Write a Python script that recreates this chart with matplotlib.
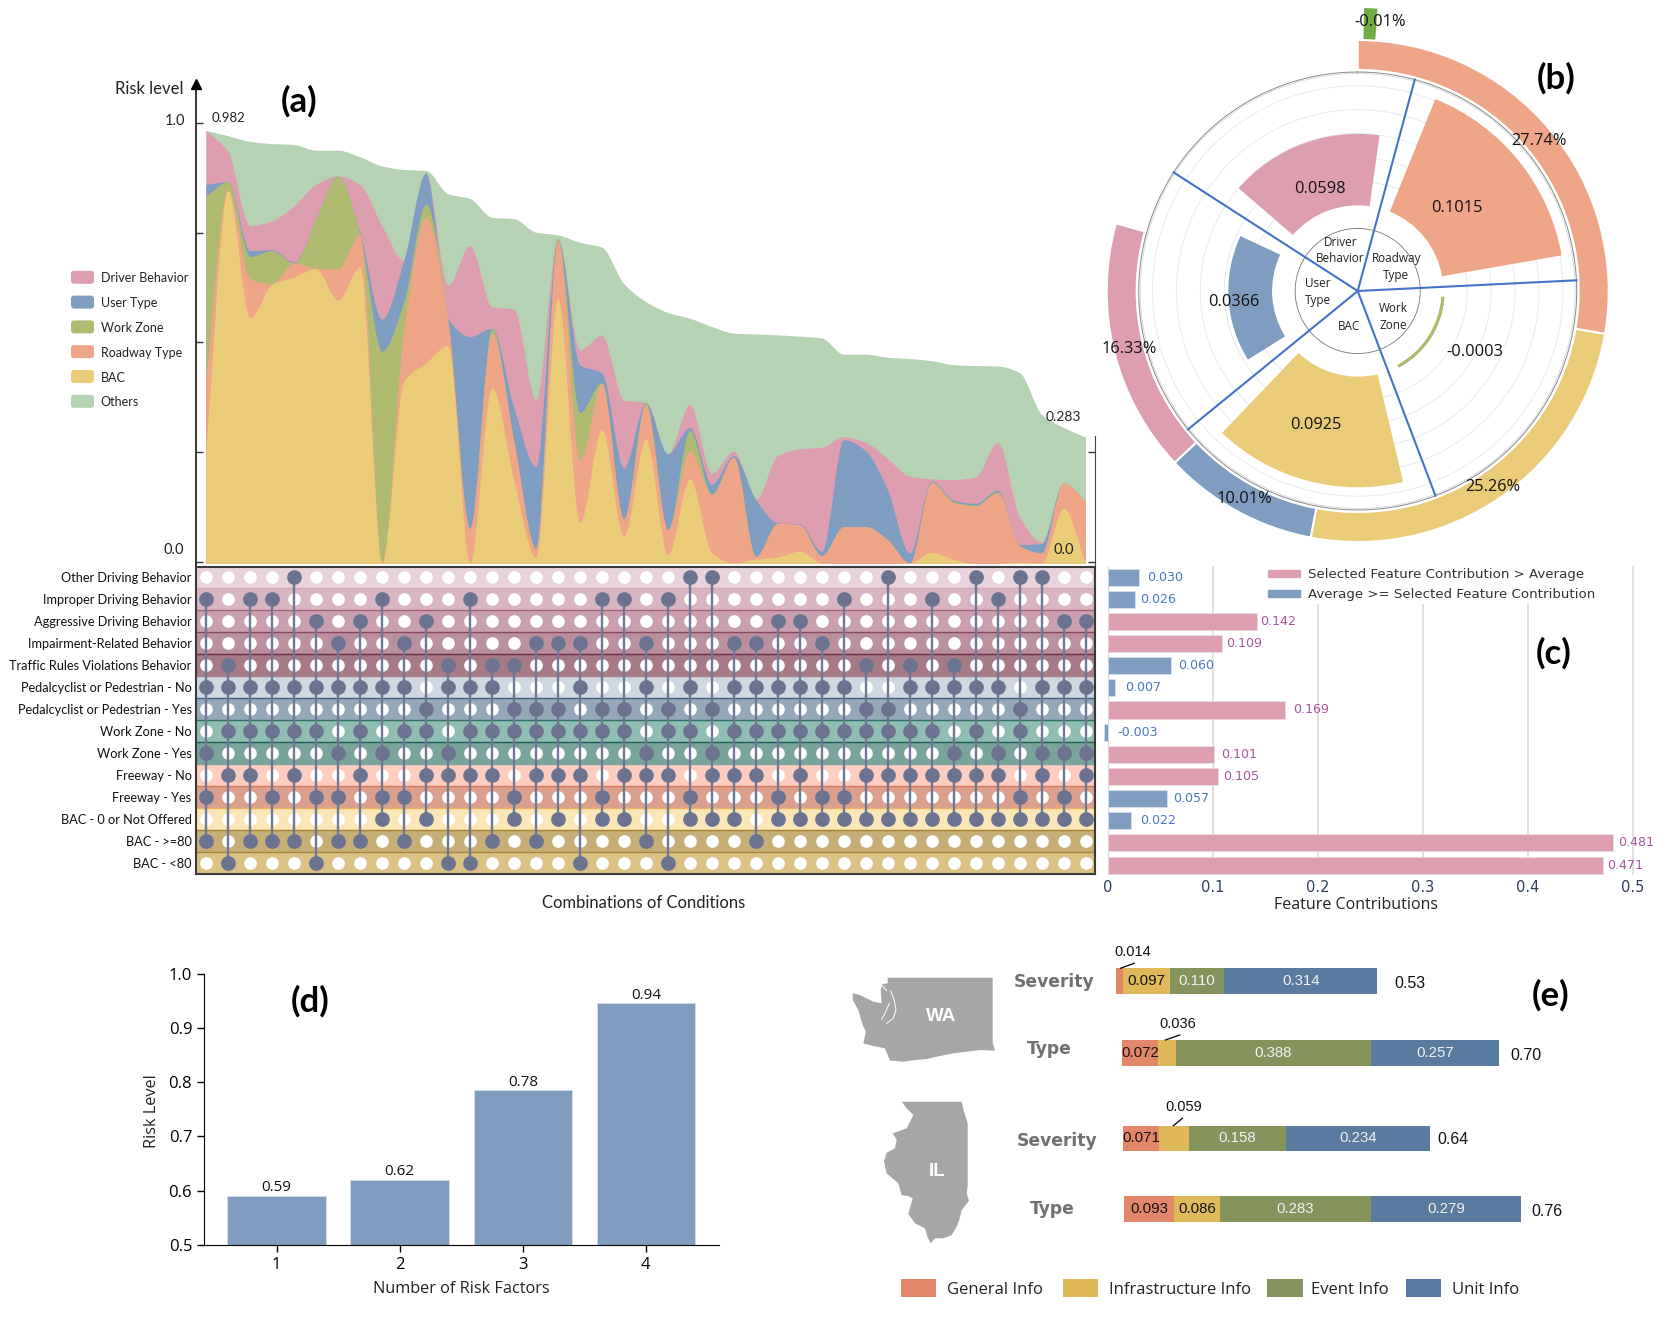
import numpy as np
import matplotlib
matplotlib.use("Agg")
import matplotlib.pyplot as plt
from matplotlib.patches import PathPatch, Polygon, Rectangle, FancyBboxPatch, Patch
from matplotlib.path import Path

W, H = 1661, 1334

plt.rcParams["font.family"] = ["Lato", "DejaVu Sans"]

# (a) stacked risk level, cumulative top of each layer per combination
others_top = [.982, .970, .957, .952, .950, .937, .937, .922, .901, .893, .891, .838, .827, .784, .781, .750, .744, .727, .716, .633, .592,
              .567, .554, .535, .520, .518, .516, .513, .509, .472, .472, .465, .462, .457, .448, .446, .445, .430, .335, .305, .283]
driver_top = [.982, .934, .765, .776, .810, .859, .878, .859, .765, .686, .885, .629, .720, .580, .575, .369, .735, .482, .515, .367, .362,
              .245, .358, .201, .251, .141, .241, .256, .260, .284, .271, .234, .194, .188, .186, .192, .271, .102, .044, .179, .136]
user_top = [.859, .865, .708, .710, .682, .780, .878, .750, .552, .686, .885, .554, .512, .531, .350, .216, .735, .448, .430, .213, .362,
            .245, .305, .176, .241, .141, .088, .085, .023, .277, .252, .162, .019, .183, .139, .132, .162, .038, .040, .179, .136]
work_top = [.833, .865, .695, .708, .680, .780, .878, .746, .479, .592, .814, .550, .075, .531, .275, .030, .735, .339, .407, .098, .362,
            .072, .298, .154, .237, .011, .087, .083, .013, .079, .079, .049, -.004, .181, .136, .128, .158, .035, .019, .179, .136]
road_top = [.422, .848, .644, .633, .680, .668, .667, .745, .000, .531, .784, .550, .075, .520, .275, .030, .731, .230, .405, .096, .358,
            .072, .252, .152, .237, .011, .087, .083, .013, .079, .079, .049, -.004, .179, .134, .126, .156, .035, .019, .179, .136]
bac_top = [.260, .844, .554, .631, .648, .667, .595, .671, -.004, .411, .452, .492, -.004, .396, .185, .008, .601, .088, .301, .057, .279,
           .015, .188, .019, -.004, .005, .010, .023, -.004, -.005, -.005, -.005, -.004, .020, .004, -.005, -.005, -.002, -.004, .121, -.005]
layer_names = ["Driver Behavior", "User Type", "Work Zone", "Roadway Type", "BAC", "Others"]
layer_colors = ["#dd9fb0", "#7f9dc0", "#b0bb72", "#eea588", "#eacb78", "#b5d2b2"]

# (a) condition matrix, columns that are set on each row
condition_labels = ["Other Driving Behavior", "Improper Driving Behavior", "Aggressive Driving Behavior",
                    "Impairment-Related Behavior", "Traffic Rules Violations Behavior",
                    "Pedalcyclist or Pedestrian - No", "Pedalcyclist or Pedestrian - Yes",
                    "Work Zone - No", "Work Zone - Yes", "Freeway - No", "Freeway - Yes",
                    "BAC - 0 or Not Offered", "BAC - >=80", "BAC - <80"]
other_driving = [4, 22, 23, 31, 35, 37, 38]
improper = [0, 2, 3, 8, 12, 18, 19, 21, 29, 33, 36]
aggressive = [5, 7, 10, 26, 27, 39, 40]
impairment = [6, 9, 15, 16, 17, 20, 24, 25, 28]
traffic_rules = [1, 11, 13, 14, 30, 32, 34]
ped_no = [0, 1, 2, 3, 4, 5, 6, 7, 8, 9, 11, 12, 13, 17, 20, 22, 24, 25, 26, 27, 28, 29, 32, 33, 34, 35, 36, 38, 39, 40]
ped_yes = [10, 14, 15, 16, 18, 19, 21, 23, 30, 31, 37]
wz_no = [1, 2, 3, 4, 5, 7, 9, 10, 12, 13, 14, 15, 16, 17, 18, 19, 21, 22, 24, 25, 26, 27, 28, 29, 30, 31, 32, 33, 35, 37]
wz_yes = [0, 6, 8, 11, 20, 23, 34, 36, 38, 39, 40]
fwy_no = [1, 2, 4, 7, 10, 11, 12, 13, 15, 16, 17, 19, 20, 21, 23, 24, 25, 27, 30, 31, 32, 33, 34, 35, 36, 38, 40]
fwy_yes = [0, 3, 5, 6, 8, 9, 14, 18, 22, 26, 28, 29, 37, 39]
bac_zero = [8, 10, 14, 16, 18, 19, 22, 23, 24, 26, 27, 28, 29, 30, 31, 32, 33, 34, 35, 36, 37, 38, 39, 40]
bac_high = [0, 2, 3, 4, 6, 7, 9, 13, 15, 20, 25]
bac_low = [1, 5, 11, 12, 17, 21]
matrix_rows = [other_driving, improper, aggressive, impairment, traffic_rules, ped_no, ped_yes,
               wz_no, wz_yes, fwy_no, fwy_yes, bac_zero, bac_high, bac_low]
band_colors = ["#e8d3dc", "#d9b4c2", "#caa0b1", "#ba909f", "#a67a87", "#cfd8e1", "#95a8ba",
               "#8fbdb1", "#78a49c", "#fecdc0", "#dba08d", "#fae6b7", "#c6ae76", "#dcc185"]
band_lines = ["#d9a7b9", "#a5607a", "#8b4560", "#6b2c46", "#a67a87", "#3f5f7e", "#2d6e66",
              "#1e5c55", "#78a49c", "#d4785a", "#eeb05e", "#a8832e", "#a8853a", "#dcc185"]

# (b) radial contributions
sector_names = ["Roadway", "Work", "BAC", "User", "Driver"]
sector_values = [0.1015, -0.0003, 0.0925, 0.0366, 0.0598]
sector_from = [22.0, 94.7, 166.6, 238.0, 310.8]
sector_to = [80.1, 151.0, 223.7, 295.1, 368.0]
sector_colors = ["#eea588", "#b0bb72", "#eacb78", "#7f9dc0", "#dd9fb0"]
divider_angles = [15.1, 87.2, 159.2, 230.8, 302.8]
ring_pct = [27.74, 25.26, 10.01, 16.33]
ring_colors = ["#eea588", "#eacb78", "#7f9dc0", "#dd9fb0"]

# (c) feature contributions
contrib = [0.030, 0.026, 0.142, 0.109, 0.060, 0.007, 0.169, -0.003, 0.101, 0.105, 0.057, 0.022, 0.481, 0.471]
contrib_pad = [.008, .005, .003, .004, .007, .010, .0076, .0127, .007, .005, .0055, .009, .005, .004]
above_avg = [False, False, True, True, False, False, True, False, True, True, False, False, True, True]

# (d) risk by number of factors
n_factors = [1, 2, 3, 4]
risk_level = [0.59, 0.62, 0.785, 0.946]
risk_labels = ["0.59", "0.62", "0.78", "0.94"]

# (e) state models
info_names = ["General Info", "Infrastructure Info", "Event Info", "Unit Info"]
info_colors = ["#e2876a", "#dfb95a", "#85935d", "#5a7ba0"]
wa_severity = [0.014, 0.097, 0.110, 0.314]
wa_type = [0.072, 0.036, 0.388, 0.257]
il_severity = [0.071, 0.059, 0.158, 0.234]
il_type = [0.093, 0.086, 0.283, 0.279]
# this row is drawn a little off its printed numbers in the picture
il_severity_drawn = [0.061, 0.050, 0.164, 0.244]

# state outlines, pixels of a 3x crop
wa_outline = [(143, 53), (458, 53), (458, 248), (465, 272), (420, 270), (380, 275), (340, 280), (300, 288), (260, 297),
              (225, 300), (190, 305), (150, 302), (143, 285), (135, 265), (100, 258), (70, 250), (78, 215), (68, 195),
              (55, 150), (38, 120), (38, 100), (60, 105), (100, 125), (125, 130), (122, 90), (128, 72), (143, 70)]
wa_sound = [[(152, 92), (162, 118), (168, 150), (160, 175), (140, 190)], [(148, 130), (135, 160), (125, 178)],
            [(128, 78), (140, 92)]]
il_outline = [(185, 425), (365, 425), (372, 455), (383, 490), (383, 680), (380, 700), (387, 722), (365, 750), (358, 780),
              (350, 800), (335, 825), (310, 835), (285, 835), (272, 850), (262, 830), (255, 805), (225, 790), (205, 762),
              (218, 715), (205, 708), (185, 705), (175, 670), (140, 640), (132, 605), (140, 578), (165, 565), (170, 540),
              (158, 520), (200, 505), (220, 465), (200, 445)]


def px_axes(fig, left, top, right, bottom, **kw):
    return fig.add_axes([left / W, 1 - bottom / H, (right - left) / W, (bottom - top) / H], **kw)


def smooth_segments(x, y):
    # monotone cubic control points, drawn by the renderer as bezier curves
    x = np.asarray(x, float)
    y = np.asarray(y, float)
    h = np.diff(x)
    s = np.diff(y) / h
    m = np.zeros(len(x))
    m[0], m[-1] = s[0], s[-1]
    for i in range(1, len(x) - 1):
        if s[i - 1] * s[i] > 0:
            m[i] = 2 * s[i - 1] * s[i] / (s[i - 1] + s[i])
    verts = []
    for i in range(len(x) - 1):
        verts.append((x[i] + h[i] / 3, y[i] + m[i] * h[i] / 3))
        verts.append((x[i + 1] - h[i] / 3, y[i + 1] - m[i + 1] * h[i] / 3))
        verts.append((x[i + 1], y[i + 1]))
    return verts


def area_patch(x, top, base, color):
    verts = [(x[0], base), (x[0], top[0])] + smooth_segments(x, top) + [(x[-1], base), (x[0], base)]
    codes = [Path.MOVETO, Path.LINETO] + [Path.CURVE4] * (3 * (len(x) - 1)) + [Path.LINETO, Path.CLOSEPOLY]
    return PathPatch(Path(verts, codes), facecolor=color, edgecolor="none")


fig = plt.figure(figsize=(W / 100, H / 100), dpi=100, facecolor="white")

# overlay in picture pixels, for free text and the state shapes
ov = fig.add_axes([0, 0, 1, 1], zorder=20)
ov.set_xlim(0, W)
ov.set_ylim(H, 0)
ov.axis("off")
ov.patch.set_alpha(0)


def put(x, y, s, size=10, ha="center", va="center", **kw):
    ov.text(x, y + 1.7, s, fontsize=size, ha=ha, va=va, **kw)


# ---- (a) area
ax_a = px_axes(fig, 196.4, 84, 1095, 566)
xs = np.arange(41)
ax_a.set_xlim(-0.455, 40.41)
ax_a.set_ylim(-0.0097, 1.089)
stack = [(others_top, layer_colors[5]), (driver_top, layer_colors[0]), (user_top, layer_colors[1]),
         (work_top, layer_colors[2]), (road_top, layer_colors[3]), (bac_top, layer_colors[4])]
for top, col in stack:
    ax_a.add_patch(area_patch(xs, top, -0.005, col))
for s in ["top", "bottom"]:
    ax_a.spines[s].set_visible(False)
ax_a.spines["left"].set_linewidth(1.1)
ax_a.spines["right"].set_bounds(-0.0097, 0.286)
ax_a.spines["right"].set_color("#444444")
ax_a.set_xticks([])
ax_a.set_yticks([0, 0.25, 0.5, 0.75, 1.0])
ax_a.tick_params(axis="y", direction="in", length=5, width=1, left=True, right=True, labelleft=False, colors="#333333")
for tick, val in zip(ax_a.yaxis.get_major_ticks(), [0, 0.25, 0.5, 0.75, 1.0]):
    if val > 0.3:
        tick.tick2line.set_visible(False)
ax_a.plot(0, 1, "^", color="black", ms=7, transform=ax_a.transAxes, clip_on=False)

for i, (name, col) in enumerate(zip(layer_names, layer_colors)):
    yc = 277.3 + i * 24.8
    ov.add_patch(FancyBboxPatch((71, yc - 6.5), 23, 13, boxstyle="round,pad=0,rounding_size=3", facecolor=col, edgecolor="none",
                                mutation_aspect=1))
    put(100.7, yc - 0.7, name, 9, ha="left", color="#222222")
put(183.6, 87, "Risk level", 12, ha="right", color="#222222")
put(175, 119, "1.0", 10.5, color="#222222")
put(173.6, 548, "0.0", 10.5, color="#222222")
put(228.6, 116.7, "0.982", 9.5, color="#222222")
put(1063.6, 415.7, "0.283", 10, color="#222222")
put(1063.6, 548.7, "0.0", 10.5, color="#222222")
put(299, 100, "(a)", 25, fontweight="bold", color="black")

# ---- (a) matrix
ax_m = px_axes(fig, 196.4, 566.5, 1095, 874)
ax_m.set_xlim(-0.455, 40.41)
ax_m.set_ylim(13.5, -0.5)
for i in range(14):
    ax_m.axhspan(i - 0.5, i + 0.5, color=band_colors[i], lw=0)
    ax_m.axhline(i + 0.5, color=band_lines[i], lw=1.0)
xx, yy = np.meshgrid(xs, np.arange(14))
ax_m.scatter(xx.ravel(), yy.ravel(), s=83, color="white", lw=0, zorder=3)
for k in xs:
    rows = [i for i, hits in enumerate(matrix_rows) if k in hits]
    ax_m.plot([k, k], [min(rows), max(rows)], color="#6e7793", lw=1.7, zorder=4, solid_capstyle="butt")
    ax_m.scatter([k] * len(rows), rows, s=112, color="#6b7391", lw=0, zorder=5)
ax_m.set_xticks([])
ax_m.set_yticks(range(14))
ax_m.set_yticklabels(condition_labels, fontsize=9.2, color="#111111")
ax_m.tick_params(axis="y", length=0, pad=3.5)
for s in ax_m.spines.values():
    s.set_color("#3a3a3a")
    s.set_linewidth(1.5)
put(644, 901.7, "Combinations of Conditions", 12, color="#222222")

# ---- (b) radial
R0 = 0.0716
RMAX = 0.18
side = (RMAX + R0) * 1196
cx, cy = 1357.7, 291
ax_b = px_axes(fig, cx - side, cy - side, cx + side, cy + side, projection="polar", zorder=5)
ax_b.patch.set_alpha(0)
ax_b.set_theta_zero_location("N")
ax_b.set_theta_direction(-1)
ax_b.set_ylim(-R0, RMAX)
ax_b.spines["polar"].set_visible(False)
ax_b.set_xticks([])
ax_b.set_yticks([0.02, 0.04, 0.06, 0.08, 0.10])
ax_b.set_yticklabels([])
ax_b.grid(axis="y", color="#e6ebf3", lw=0.7)
ax_b.set_axisbelow(True)
for a0, a1, val, col in zip(sector_from, sector_to, sector_values, sector_colors):
    mid = np.radians((a0 + a1) / 2)
    ax_b.bar(mid, val, width=np.radians(a1 - a0), bottom=0, color=col, lw=2 if val < 0 else 0, edgecolor=col)
start = 0.0
for pct, col in zip(ring_pct, ring_colors):
    ax_b.bar(np.radians(start + pct * 1.8), 0.0251, width=np.radians(pct * 3.6), bottom=0.1132, color=col, edgecolor="white", lw=1.5)
    start += pct * 3.6
ax_b.bar(np.radians(2.65), 0.0259, width=np.radians(2.7), bottom=0.1391, color="#70ad47", lw=0)
circle = np.linspace(0, 2 * np.pi, 361)
ax_b.plot(circle, np.full(361, 0.1115), color="#888888", lw=0.7)
ax_b.plot(circle, np.full(361, 0.1102), color="#cfcfcf", lw=0.5)
ax_b.plot(circle, np.full(361, -0.0193), color="#777777", lw=0.6)
for ang in divider_angles:
    ax_b.plot([np.radians(ang)] * 2, [-R0, 0.1115], color="#4472c4", lw=1.5)
ax_b.set_ylim(-R0, RMAX)

ring_text = [(1380.2, 20.4, "-0.01%"), (1538.6, 139.3, "27.74%"), (1492.4, 485.7, "25.26%"),
             (1244.8, 497.5, "10.01%"), (1129.3, 347.5, "16.33%"), (1457, 206, "0.1015"),
             (1320, 187.5, "0.0598"), (1233.8, 300, "0.0366"), (1315.8, 423.2, "0.0925"), (1475.3, 350, "-0.0003")]
for x, y, s in ring_text:
    put(x, y, s, 11.8, family="Open Sans", color="#111111")
inner_text = [(1340.2, 241, "Driver"), (1339.8, 257, "Behavior"), (1396.3, 257, "Roadway"), (1395.9, 274.3, "Type"),
              (1317.6, 282, "User"), (1317.6, 299, "Type"), (1348.6, 325, "BAC"), (1393.3, 306.4, "Work"), (1393, 324, "Zone")]
for x, y, s in inner_text:
    put(x, y, s, 8.5, family="Open Sans", color="#222222")
put(1556, 77, "(b)", 25, fontweight="bold", color="black")

# ---- (c) contributions
x0, scale = 1107.5, 1051.0
ax_c = px_axes(fig, 1100, 566, 1640, 875)
ax_c.set_xlim((1100 - x0) / scale, (1640 - x0) / scale)
ax_c.set_ylim(13.45, -0.5)
for g in [0.1, 0.2, 0.3, 0.4, 0.5]:
    ax_c.axvline(g, color="#dddddd", lw=1.3, zorder=1)
ax_c.axvline(0, color="#d5d8df", lw=0.8, zorder=1)
for i, (v, pad, hi) in enumerate(zip(contrib, contrib_pad, above_avg)):
    ax_c.barh(i, v, height=0.77, color="#dd9fb0" if hi else "#7f9dc0", edgecolor="#eadde2" if hi else "#d5dfea", lw=0.6, zorder=2)
    ax_c.text(v + pad, i, f"{v:.3f}", fontsize=9.1, family="DejaVu Sans", va="center", zorder=3,
              color="#a8559a" if hi else "#4a78c8")
for s in ax_c.spines.values():
    s.set_visible(False)
ax_c.set_yticks([])
ax_c.set_xticks([0, 0.1, 0.2, 0.3, 0.4, 0.5])
ax_c.set_xticklabels(["0", "0.1", "0.2", "0.3", "0.4", "0.5"], fontsize=10.5, family="DejaVu Sans", color="#2e3f5c")
ax_c.tick_params(axis="x", length=0, pad=3.5)
leg = ax_c.legend(handles=[Patch(color="#dd9fb0", label="Selected Feature Contribution > Average"),
                           Patch(color="#7f9dc0", label="Average >= Selected Feature Contribution")],
                  loc="upper left", bbox_to_anchor=(0.304, 1.004), prop={"family": "DejaVu Sans", "size": 9.65},
                  frameon=True, framealpha=1, edgecolor="none", facecolor="white", handlelength=2.4, handleheight=0.42,
                  labelspacing=0.52, borderpad=0.25, handletextpad=0.63, borderaxespad=0, labelcolor="#333333")
leg.set_zorder(2.5)
put(1355.8, 903.3, "Feature Contributions", 11.5, family="Open Sans", color="#222222")
put(1554, 652, "(c)", 25, fontweight="bold", color="black")

# ---- (d) bars
ax_d = px_axes(fig, 204, 974, 719, 1244.7)
ax_d.bar(n_factors, risk_level, width=0.8, color="#7f9cbf", edgecolor="#d5dfea", lw=0.6)
ax_d.set_xlim(0.41, 4.594)
ax_d.set_ylim(0.5, 1.0)
for n, v, lab in zip(n_factors, risk_level, risk_labels):
    ax_d.text(n, v + 0.001, lab, fontsize=11, family="Open Sans", ha="center", va="bottom", color="#111111")
ax_d.spines["top"].set_visible(False)
ax_d.spines["right"].set_visible(False)
ax_d.set_xticks(n_factors)
ax_d.set_yticks([0.5, 0.6, 0.7, 0.8, 0.9, 1.0])
ax_d.tick_params(labelsize=12, length=5, width=1)
for lab in ax_d.get_xticklabels() + ax_d.get_yticklabels():
    lab.set_family("Open Sans")
put(461, 1287, "Number of Risk Factors", 11.7, family="Open Sans", color="#222222")
put(152.4, 1109, "Risk Level", 11.7, family="Open Sans", color="#222222", rotation=90)
put(310, 1000, "(d)", 25, fontweight="bold", color="black")

# ---- (e) stacked rows
rows_e = [(wa_severity, wa_severity, 1116.2, 1377.4, 968.3, 994), (wa_type, wa_type, 1122, 1499.4, 1040, 1065.7),
          (il_severity_drawn, il_severity, 1123, 1430.4, 1125.7, 1151.3), (il_type, il_type, 1124, 1520.5, 1196, 1221.7)]
for widths, values, left, right, top, bottom in rows_e:
    ax = px_axes(fig, left, top, right, bottom)
    ax.set_xlim(0, sum(widths))
    ax.set_ylim(-0.5, 0.5)
    ax.axis("off")
    pos = 0.0
    for j, (wd, v) in enumerate(zip(widths, values)):
        ax.barh(0, wd, left=pos, height=1, color=info_colors[j], lw=0)
        if v >= 0.06:
            ax.text(pos + wd / 2, 0, f"{v:.3f}", fontsize=10.8, family="Liberation Sans", ha="center", va="center",
                    color="#111111" if j < 2 else "#f2f2f2")
        pos += wd
for (x, y, s), seg in zip([(1133, 950, "0.014"), (1178, 1022, "0.036"), (1183.5, 1105, "0.059")],
                          [((1120.4, 1134.2), (968.3, 963.3)), ((1165.4, 1179.8), (1040, 1035)), ((1173.4, 1182.4), (1125.7, 1118.3))]):
    put(x, y, s, 10.5, family="Liberation Sans", color="#111111")
    ov.plot(seg[0], seg[1], color="black", lw=0.9)
for x, y, s in [(1410.3, 982.3, "0.53"), (1525.8, 1053.7, "0.70"), (1452.7, 1138, "0.64"), (1546.5, 1210, "0.76")]:
    put(x, y, s, 11.5, family="Liberation Sans", color="#111111")
for x, y, s in [(1053.6, 980, "Severity"), (1048.9, 1047.7, "Type"), (1056.8, 1139, "Severity"), (1052.6, 1207, "Type")]:
    put(x, y, s, 12.3, family="DejaVu Sans", fontweight="bold", color="#707070")
for outline in [wa_outline, il_outline]:
    ov.add_patch(Polygon([(840 + a / 3, 960 + b / 3) for a, b in outline], closed=True, facecolor="#a6a6a6", edgecolor="none"))
for thread in wa_sound:
    ov.plot([840 + a / 3 for a, b in thread], [960 + b / 3 for a, b in thread], color="white", lw=0.7)
put(940.7, 1015, "WA", 13.5, family="Liberation Sans", fontweight="bold", color="white")
put(937.3, 1169.3, "IL", 13.5, family="Liberation Sans", fontweight="bold", color="white")
swatch_x = [900.5, 1062.6, 1267, 1405.5]
label_x = [946.6, 1109, 1311, 1451.6]
for sx, lx, name, col in zip(swatch_x, label_x, info_names, info_colors):
    ov.add_patch(Rectangle((sx, 1278.5), 35.5, 18, facecolor=col, edgecolor="none"))
    put(lx, 1288, name, 12, ha="left", family="Open Sans", color="#222222")
put(1551, 994, "(e)", 25, fontweight="bold", color="black")

fig.savefig("out.png", dpi=100)
